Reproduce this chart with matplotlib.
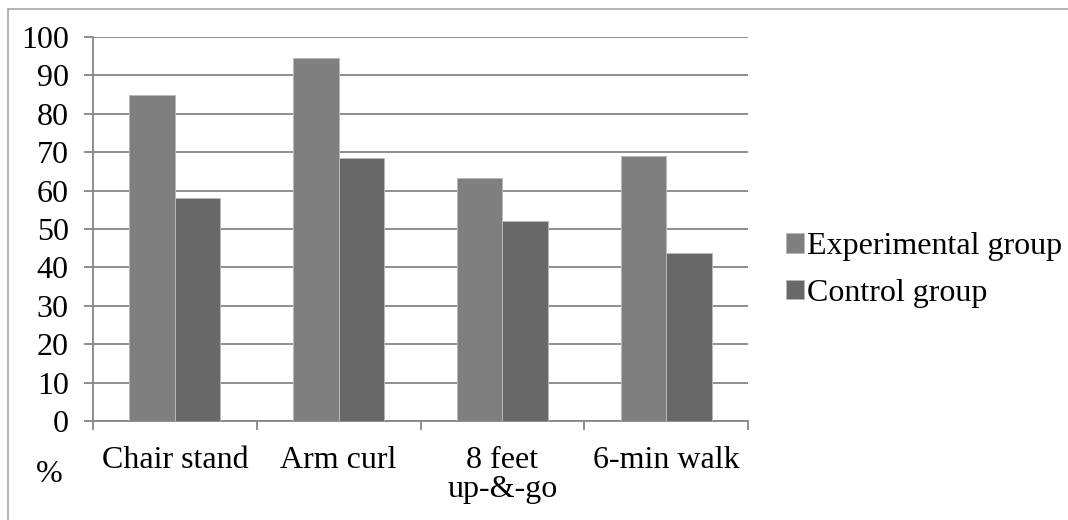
import numpy as np
import matplotlib.pyplot as plt
from matplotlib.patches import Rectangle

# Data
categories = ['Chair stand', 'Arm curl', '8 feet\nup-&-go', '6-min walk']
experimental = [85, 94.5, 63.3, 69]
control = [58.2, 68.5, 52, 43.8]
series_names = ['Experimental group', 'Control group']
yticks = list(range(0, 101, 10))

plt.rcParams['font.family'] = ['Liberation Serif', 'DejaVu Serif']
fs = 23
grid_col = '#868686'

fig = plt.figure(figsize=(10.68, 5.2), dpi=100)
ax = fig.add_axes([93 / 1068, 1 - 421 / 520, (748 - 93) / 1068, (421 - 37) / 520])

x = np.arange(len(categories))
w = 0.278
ax.bar(x - w / 2, experimental, w, color='#7f7f7f', edgecolor='#b8b8b8', linewidth=0.7,
       label=series_names[0], zorder=3)
ax.bar(x + w / 2, control, w, color='#686868', edgecolor='#b8b8b8', linewidth=0.7,
       label=series_names[1], zorder=3)

ax.set_xlim(-0.5, len(categories) - 0.5)
ax.set_ylim(0, 100)
ax.set_yticks(yticks)
ax.set_yticklabels([str(v) for v in yticks], fontsize=fs)
ax.yaxis.grid(True, color=grid_col, linewidth=1.3, zorder=0)
ax.set_axisbelow(True)

ax.set_xticks(x)
ax.set_xticklabels(categories, fontsize=fs, linespacing=1.0)
ax.set_xticks(np.arange(len(categories) + 1) - 0.5, minor=True)
ax.tick_params(axis='x', which='major', length=0, pad=18)
ax.tick_params(axis='x', which='minor', length=6.5, color=grid_col, width=1.3, direction='out')
ax.tick_params(axis='y', length=6.5, color=grid_col, width=1.3, pad=11)

for s in ['top', 'right']:
    ax.spines[s].set_visible(False)
for s in ['left', 'bottom']:
    ax.spines[s].set_color(grid_col)
    ax.spines[s].set_linewidth(1.3)

fig.text(49 / 1068, 1 - 475 / 520, '%', fontsize=fs, ha='center', va='center')

fig.legend(loc='center left', bbox_to_anchor=(786 / 1068, 1 - 270 / 520), frameon=False,
           fontsize=fs, handlelength=0.55, handleheight=0.55, handletextpad=0.12,
           labelspacing=0.55, borderpad=0, borderaxespad=0)

# outer chart border
fig.add_artist(Rectangle((8 / 1068, -0.01), 1.05, 1 - 9 / 520 + 0.01, transform=fig.transFigure,
                         fill=False, edgecolor='#a6a6a6', linewidth=1.2))

fig.savefig('out.png', dpi=100)
